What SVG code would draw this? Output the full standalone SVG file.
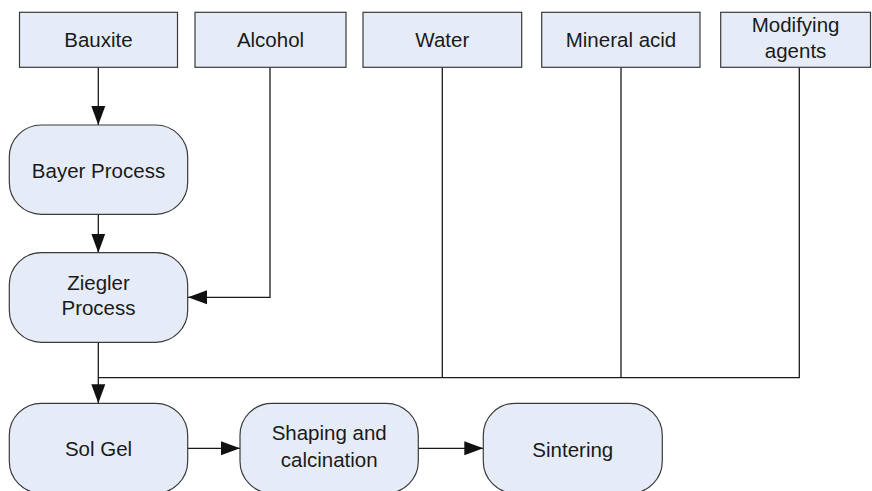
<svg xmlns="http://www.w3.org/2000/svg" width="872" height="491" viewBox="0 0 872 491">
<defs>
<style>
.box{fill:#e6ecf7;stroke:#3a3a3a;stroke-width:1.2}
.t{font-family:"Liberation Sans",Arial,sans-serif;font-size:20.5px;fill:#1a1a1a;text-anchor:middle}
.c{fill:none;stroke:#1a1a1a;stroke-width:1.3}
</style>
<marker id="ah" markerUnits="userSpaceOnUse" markerWidth="20" markerHeight="16" refX="19" refY="7" orient="auto" viewBox="0 0 20 14">
<path d="M0,0 L19,7 L0,14 Z" fill="#111"/>
</marker>
</defs>
<rect width="872" height="491" fill="#fff"/>
<g id="connectors">
<line class="c" x1="98.3" y1="67.3" x2="98.3" y2="125" marker-end="url(#ah)"/>
<line class="c" x1="98.3" y1="214.3" x2="98.3" y2="252.7" marker-end="url(#ah)"/>
<polyline class="c" points="270,67.3 270,297.3 188,297.3" marker-end="url(#ah)"/>
<line class="c" x1="98.3" y1="342.3" x2="98.3" y2="403.3" marker-end="url(#ah)"/>
<polyline class="c" points="98.3,377.7 799.3,377.7 799.3,67.3"/>
<line class="c" x1="442.3" y1="67.3" x2="442.3" y2="377.7"/>
<line class="c" x1="621" y1="67.3" x2="621" y2="377.7"/>
<line class="c" x1="187.7" y1="448.3" x2="240" y2="448.3" marker-end="url(#ah)"/>
<line class="c" x1="418.3" y1="448.3" x2="483.3" y2="448.3" marker-end="url(#ah)"/>
</g>
<g id="bauxite"><rect class="box" x="19.5" y="12.3" width="158" height="55"/><text class="t" x="98.5" y="47">Bauxite</text></g>
<g id="alcohol"><rect class="box" x="195" y="12.3" width="151" height="55"/><text class="t" x="270.5" y="47">Alcohol</text></g>
<g id="water"><rect class="box" x="363" y="12.3" width="158.7" height="55"/><text class="t" x="442.3" y="47">Water</text></g>
<g id="mineral-acid"><rect class="box" x="541.7" y="12.3" width="158.3" height="55"/><text class="t" x="621" y="47">Mineral acid</text></g>
<g id="modifying-agents"><rect class="box" x="720.7" y="12.3" width="149.8" height="55"/><text class="t" x="795.6" y="32.3">Modifying</text><text class="t" x="795.6" y="58.3">agents</text></g>
<g id="bayer-process"><rect class="box" x="9.3" y="125" width="178.4" height="89.3" rx="32" ry="32"/><text class="t" x="98.5" y="177.7">Bayer Process</text></g>
<g id="ziegler-process"><rect class="box" x="9.3" y="252.7" width="178.4" height="89.6" rx="32" ry="32"/><text class="t" x="98.5" y="290">Ziegler</text><text class="t" x="98.5" y="315">Process</text></g>
<g id="sol-gel"><rect class="box" x="9.3" y="403.3" width="178.4" height="90" rx="32" ry="32"/><text class="t" x="98.5" y="456">Sol Gel</text></g>
<g id="shaping-calcination"><rect class="box" x="240" y="403.3" width="178.3" height="90" rx="32" ry="32"/><text class="t" x="329.2" y="440">Shaping and</text><text class="t" x="329.2" y="466.5">calcination</text></g>
<g id="sintering"><rect class="box" x="483.3" y="403.3" width="179" height="90" rx="32" ry="32"/><text class="t" x="572.8" y="456.5">Sintering</text></g>
</svg>
